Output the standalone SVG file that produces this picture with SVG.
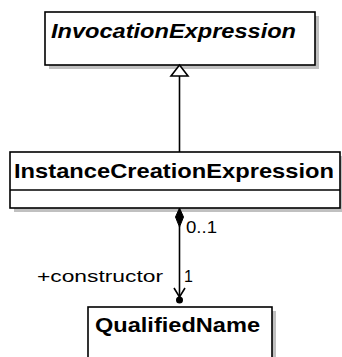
<svg xmlns="http://www.w3.org/2000/svg" width="342" height="357" viewBox="0 0 342 357">
<style>
.box{fill:#fff;stroke:#000;stroke-width:1.6}
.shadow{fill:#c0c0c0}
.name{font-family:"Liberation Sans",Arial,sans-serif;font-size:21px;font-weight:bold;fill:#000}
.lbl{font-family:"Liberation Sans",Arial,sans-serif;font-size:16px;fill:#000}
.ln{stroke:#000;stroke-width:1.6;fill:none}
</style>
<rect width="342" height="357" fill="#fff"/>
<g id="InvocationExpression">
<rect class="shadow" x="49" y="16" width="270" height="53"/>
<rect class="box" x="45" y="12" width="270" height="53"/>
<text class="name" x="51" y="38" font-style="italic" textLength="245" lengthAdjust="spacingAndGlyphs">InvocationExpression</text>
</g>
<g id="InstanceCreationExpression">
<rect class="shadow" x="14" y="156" width="330" height="56"/>
<rect class="box" x="10" y="152" width="330" height="56"/>
<line class="ln" x1="10" y1="190" x2="340" y2="190"/>
<text class="name" x="14" y="178" textLength="320" lengthAdjust="spacingAndGlyphs">InstanceCreationExpression</text>
</g>
<g id="QualifiedName">
<rect class="shadow" x="92" y="311" width="184" height="60"/>
<rect class="box" x="88" y="307" width="184" height="60"/>
<text class="name" x="95" y="332" textLength="165" lengthAdjust="spacingAndGlyphs">QualifiedName</text>
</g>
<g id="connectors">
<line class="ln" x1="179.5" y1="76" x2="179.5" y2="152"/>
<polygon points="179.5,65 188,76 171,76" fill="#fff" stroke="#000" stroke-width="1.6"/>
<line class="ln" x1="179.5" y1="226" x2="179.5" y2="299"/>
<polygon points="179.5,208 183.5,217 179.5,227 175.5,217" fill="#000" stroke="#000" stroke-width="1"/>
<polyline class="ln" points="174,288 179.5,297 185,288"/>
<circle cx="179.5" cy="300" r="3.5" fill="#000"/>
<text class="lbl" x="186" y="233" textLength="31" lengthAdjust="spacingAndGlyphs">0..1</text>
<text class="lbl" x="37" y="282" textLength="126" lengthAdjust="spacingAndGlyphs">+constructor</text>
<text class="lbl" x="184" y="282">1</text>
</g>
</svg>
